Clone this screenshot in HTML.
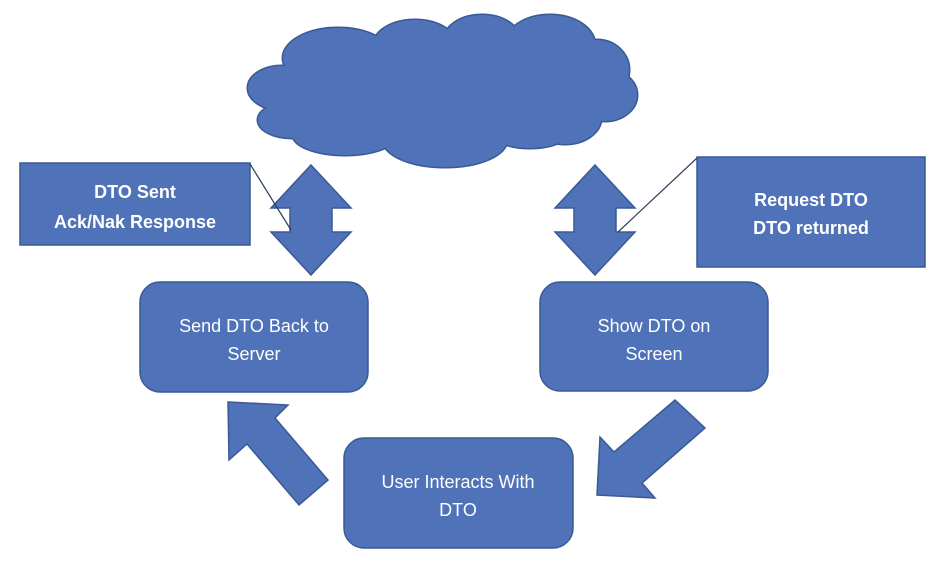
<!DOCTYPE html>
<html><head><style>
body{margin:0;background:#fff;}
svg{display:block;}
text{font-family:"Liberation Sans",sans-serif;fill:#fff;}
</style></head><body>
<svg width="943" height="568" viewBox="0 0 943 568">
<defs>
<g id="cl">
<ellipse cx="282" cy="88" rx="34" ry="22"/>
<ellipse cx="292" cy="120" rx="34" ry="18"/>
<ellipse cx="338" cy="58" rx="55" ry="30"/>
<ellipse cx="415" cy="46" rx="42" ry="26"/>
<ellipse cx="482" cy="40" rx="38" ry="25"/>
<ellipse cx="550" cy="45" rx="45" ry="30"/>
<ellipse cx="597" cy="70" rx="32" ry="30"/>
<ellipse cx="605" cy="95" rx="32" ry="26"/>
<ellipse cx="565" cy="118" rx="36" ry="26"/>
<ellipse cx="530" cy="125" rx="45" ry="23"/>
<ellipse cx="445" cy="140" rx="62" ry="27"/>
<ellipse cx="345" cy="135" rx="52" ry="20"/>
<ellipse cx="445" cy="92" rx="150" ry="52"/>
</g>
</defs>
<g fill="#4f72b8" stroke="#3a5a96" stroke-width="3"><use href="#cl"/></g>
<g fill="#4f72b8"><use href="#cl"/></g>

<g fill="#4f72b8" stroke="#3a5a96" stroke-width="1.5">
<rect x="20" y="163" width="230" height="82"/>
<rect x="697" y="157" width="228" height="110"/>
<polygon points="311,165 351,208 332,208 332,232 351,232 311,275 271,232 290,232 290,208 271,208"/>
<polygon points="595,165 635,208 616,208 616,232 635,232 595,275 555,232 574,232 574,208 555,208"/>
<rect x="140" y="282" width="228" height="110" rx="20"/>
<rect x="540" y="282" width="228" height="109" rx="20"/>
<rect x="344" y="438" width="229" height="110" rx="20"/>
<polygon points="228,402 288,405 275,418 328,480 299,505 247,444 229,460"/>
<polygon points="597,495 600,437 614,452 675,400 705,428 642,483 655,498"/>
</g>
<line x1="250" y1="164" x2="291" y2="230" stroke="#2d3e60" stroke-width="1.2"/>
<line x1="697" y1="158" x2="618" y2="232" stroke="#2d3e60" stroke-width="1.2"/>

<g font-size="18" font-weight="bold" text-anchor="middle">
<text x="135" y="198">DTO Sent</text>
<text x="135" y="228">Ack/Nak Response</text>
<text x="811" y="206">Request DTO</text>
<text x="811" y="234">DTO returned</text>
</g>
<g font-size="18" text-anchor="middle">
<text x="254" y="332">Send DTO Back to</text>
<text x="254" y="360">Server</text>
<text x="654" y="332">Show DTO on</text>
<text x="654" y="360">Screen</text>
<text x="458" y="488">User Interacts With</text>
<text x="458" y="516">DTO</text>
</g>
</svg>
</body></html>
